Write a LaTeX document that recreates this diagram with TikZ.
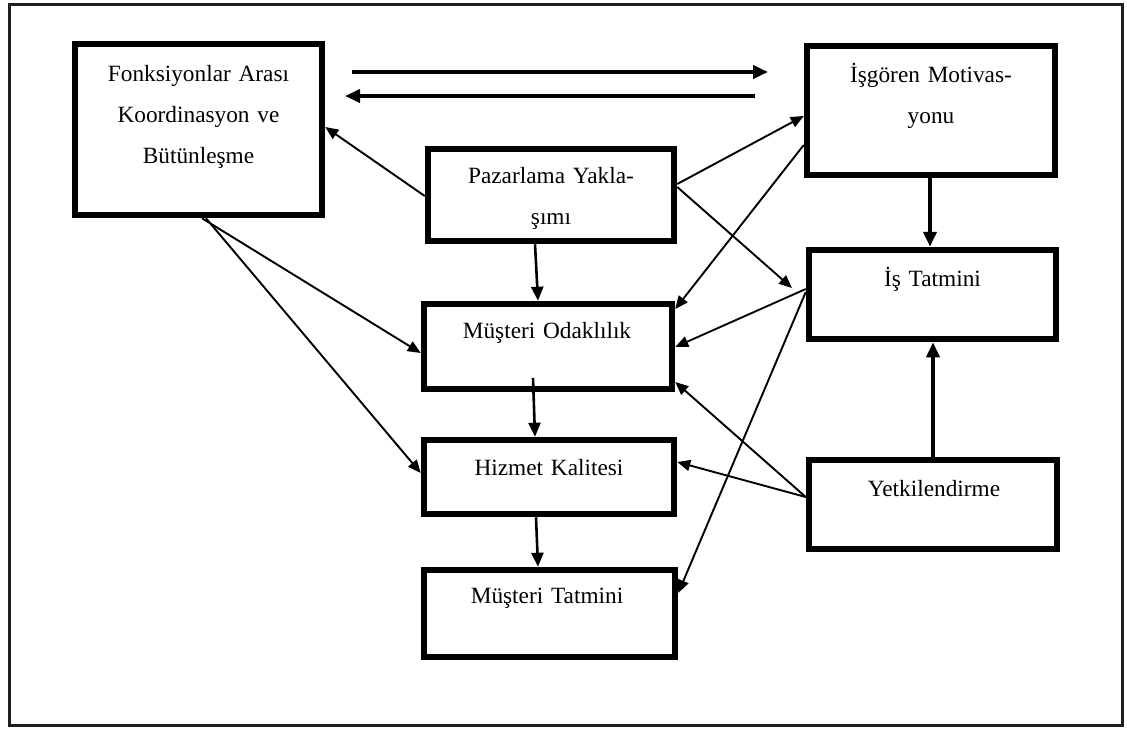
\documentclass[tikz,border=0pt]{standalone}
\usepackage{fontspec}
\setmainfont{Liberation Serif}
\usetikzlibrary{arrows.meta}
\tikzset{
  box/.style={draw=black, line width=6.5pt, fill=white, inner sep=0pt, outer sep=0.5\pgflinewidth},
  lbl/.style={anchor=base, text width=240pt, align=center, inner sep=0pt,
    font=\fontsize{23.3}{41}\selectfont},
  thin/.style={line width=1.9pt, -{Triangle[length=13pt,width=11pt]}},
  mid/.style={line width=2.6pt, -{Triangle[length=14pt,width=12pt]}},
  thick/.style={line width=4pt, -{Triangle[length=15pt,width=13pt]}},
  plain/.style={line width=4pt}
}
\begin{document}
\begin{tikzpicture}[x=1pt,y=-1pt]
\useasboundingbox (0,0) rectangle (1127,729);
\fill[white] (0,0) rectangle (1127,729);
\draw[line width=3pt, draw=black!88] (9.5,4.5) rectangle (1122.5,725.5);

% boxes
\node[box, minimum width=247pt, minimum height=171pt] (fk) at (198.5,129.5) {};
\node[box, minimum width=246pt, minimum height=92pt] (pz) at (551,195) {};
\node[box, minimum width=248pt, minimum height=129pt] (ig) at (931,110.5) {};
\node[box, minimum width=247pt, minimum height=89pt] (it) at (932.5,294.5) {};
\node[box, minimum width=248pt, minimum height=85pt] (mo) at (548,346.5) {};
\node[box, minimum width=250pt, minimum height=74pt] (hk) at (549,477) {};
\node[box, minimum width=251pt, minimum height=87pt] (mt) at (549.5,613.5) {};
\node[box, minimum width=248pt, minimum height=89pt] (yk) at (933,504.5) {};

% labels
\node[lbl] (tfk) at (198.5,81) {Fonksiyonlar Arası\\Koordinasyon ve\\Bütünleşme};
\node[lbl] (tpz) at (551,183) {Pazarlama Yakla-\\şımı};
\node[lbl] (tig) at (931,82) {İşgören Motivas-\\yonu};
\node[lbl] (tit) at (932.5,286) {İş Tatmini};
\node[lbl] (tmo) at (547,338) {Müşteri Odaklılık};
\node[lbl] (thk) at (549,475) {Hizmet Kalitesi};
\node[lbl] (tmt) at (547,603) {Müşteri Tatmini};
\node[lbl] (tyk) at (934,496) {Yetkilendirme};

% free ends of the two long horizontal arrows and inner points
\coordinate (h1s) at (352,72);
\coordinate (h1e) at (768,72);
\coordinate (h2s) at (755,96);
\coordinate (h2e) at (345,96);
\coordinate (pzit) at (792,288);
\coordinate (moin) at (533,378);

% connectors
\draw[thick] (h1s) -- (h1e);
\draw[thick] (h2s) -- (h2e);
\draw[thin] (pz.west |- 0,196) -- (fk.east |- 0,127);
\draw[thin] (pz.east |- 0,184) -- (ig.west |- 0,116);
\draw[thin] (pz.east |- 0,187) -- (pzit);
\draw[thin] (ig.west |- 0,145) -- (mo.east |- 0,309);
\draw[mid] (535,0 |- pz.south) -- (538,0 |- mo.north);
\draw[thin] (it.west |- 0,289) -- (mo.east |- 0,347);
\draw[thin] (it.west |- 0,292) -- (mt.east |- 0,593);
\draw[thick] (930,0 |- ig.south) -- (930,0 |- it.north);
\draw[thick] (933,0 |- yk.north) -- (933,0 |- it.south);
\draw[thin] (yk.west |- 0,497) -- (mo.east |- 0,382);
\draw[thin] (yk.west |- 0,497) -- (hk.east |- 0,462);
\draw[thin] (202,0 |- fk.south) -- (mo.west |- 0,353);
\draw[thin] (206,0 |- fk.south) -- (hk.west |- 0,473);
\draw[mid] (moin) -- (535,0 |- hk.north);
\draw[mid] (536,0 |- hk.south) -- (538,0 |- mt.north);
\end{tikzpicture}
\end{document}
